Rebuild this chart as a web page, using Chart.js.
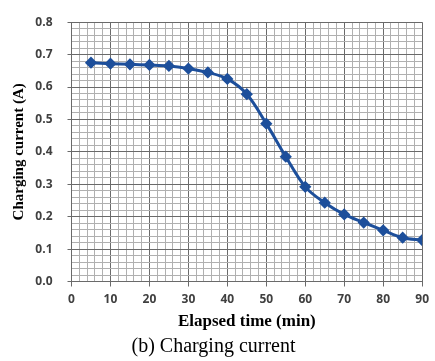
<!DOCTYPE html>
<html lang="en">
  <head>
    <meta charset="utf-8" />
    <title>Charging current</title>
    <style>
      html, body { margin: 0; padding: 0; background: #fff; }
      #wrap { width: 435px; height: 361px; }
    </style>
  </head>
  <body>
    <div id="wrap"><canvas id="currentChart"></canvas></div>
    <script src="https://cdn.jsdelivr.net/npm/chart.js@4.4.1/dist/chart.umd.min.js"></script>
    <script>
      // elapsed time in minutes
      const times = [5, 10, 15, 20, 25, 30, 35, 40, 45, 50, 55, 60, 65, 70, 75, 80, 85, 90];
      // charging current in amps
      const currents = [0.675, 0.672, 0.670, 0.668, 0.665, 0.657, 0.645, 0.625, 0.578, 0.487,
                        0.385, 0.292, 0.243, 0.207, 0.182, 0.158, 0.135, 0.128];

      const xTitle = 'Elapsed time (min)';
      const yTitle = 'Charging current (A)';
      const caption = '(b) Charging current';

      const isMajor = (v, step) => Math.abs(v / step - Math.round(v / step)) < 1e-6;
      const MAJOR = '#6a6a6a';
      const MINOR = '#b0b0b0';
      const tickFont = { family: 'Open Sans', size: 12, weight: 'bold' };

      new Chart(document.getElementById('currentChart'), {
        type: 'line',
        data: {
          datasets: [
            {
              label: 'Current',
              data: times.map((t, i) => ({ x: t, y: currents[i] })),
              borderColor: '#1d4f9b',
              backgroundColor: '#1d4f9b',
              borderWidth: 3,
              pointStyle: 'rectRot',
              pointRadius: 4,
              pointHoverRadius: 4,
              tension: 0.35,
            },
          ],
        },
        options: {
          responsive: true,
          maintainAspectRatio: false,
          animation: false,
          layout: { padding: { top: 14, right: 8, left: 0, bottom: 0 } },
          plugins: {
            legend: { display: false },
            tooltip: { enabled: false },
            title: {
              display: true,
              text: caption,
              position: 'bottom',
              color: '#000',
              font: { family: 'Liberation Serif', size: 20, weight: 'normal' },
              padding: { top: 0, bottom: 2 },
            },
          },
          scales: {
            x: {
              type: 'linear',
              min: 0,
              max: 90,
              afterFit: (s) => { s.height = 53.5; },
              ticks: {
                count: 46,
                autoSkip: false,
                maxRotation: 0,
                minRotation: 0,
                padding: 6,
                color: '#404040',
                font: tickFont,
                callback: (v) => (isMajor(v, 10) ? String(Math.round(v)) : ''),
              },
              grid: {
                color: (c) => (isMajor(c.tick.value, 10) ? MAJOR : MINOR),
                tickColor: (c) => (isMajor(c.tick.value, 10) ? MAJOR : 'rgba(0,0,0,0)'),
                tickLength: 5,
                lineWidth: 1,
              },
              border: { color: MAJOR, width: 1 },
              title: {
                display: true,
                text: xTitle,
                color: '#000',
                font: { family: 'Liberation Serif', size: 17, weight: 'bold' },
                padding: { top: 0, bottom: 3 },
              },
            },
            y: {
              min: 0,
              max: 0.8,
              afterFit: (s) => { s.width = 71.5; },
              ticks: {
                count: 41,
                autoSkip: false,
                padding: 15,
                color: '#404040',
                font: tickFont,
                callback: (v) => (isMajor(v, 0.1) ? v.toFixed(1) : ''),
              },
              grid: {
                color: (c) => (isMajor(c.tick.value, 0.1) ? MAJOR : MINOR),
                tickColor: (c) => (isMajor(c.tick.value, 0.1) ? MAJOR : 'rgba(0,0,0,0)'),
                tickLength: 4,
                lineWidth: 1,
              },
              border: { color: MAJOR, width: 1 },
              title: {
                display: true,
                text: yTitle,
                color: '#000',
                font: { family: 'Liberation Serif', size: 15, weight: 'bold' },
                padding: { top: 10, bottom: 0 },
              },
            },
          },
        },
      });
    </script>
  </body>
</html>
